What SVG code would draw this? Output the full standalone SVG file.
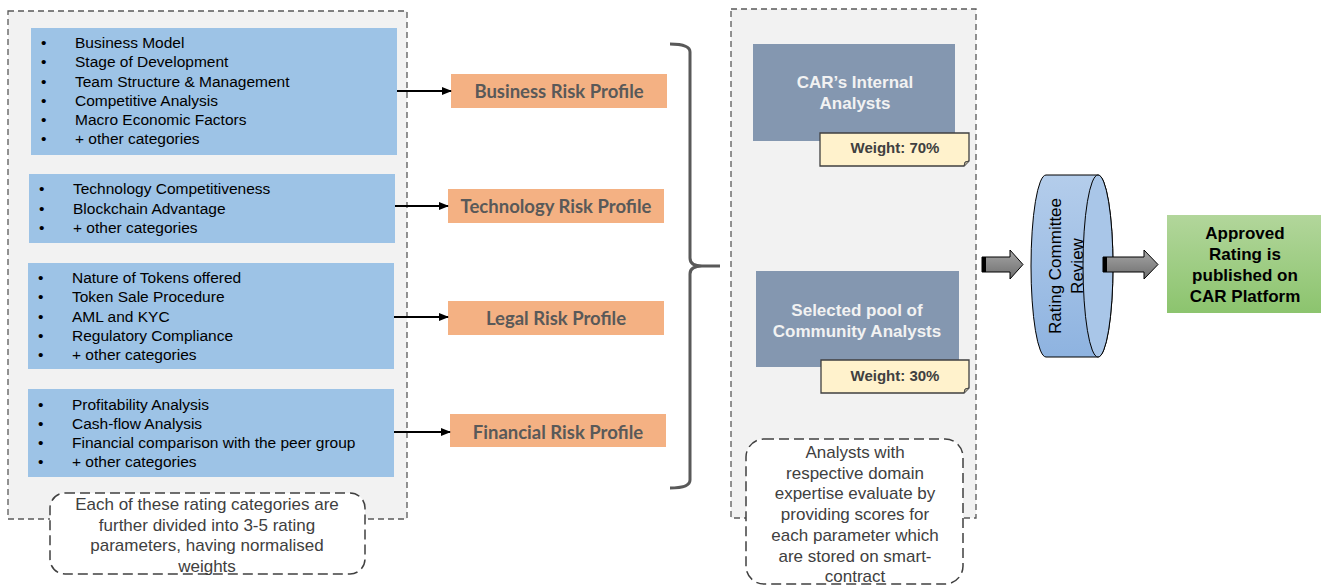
<svg xmlns="http://www.w3.org/2000/svg" width="1323" height="585" viewBox="0 0 1323 585">
<defs>
<style>
.cont{fill:#F2F2F2;stroke:#595959;stroke-width:1.3;stroke-dasharray:6 4}
.note{fill:#FFFFFF;stroke:#404040;stroke-width:1.5;stroke-dasharray:10 5}
.blue{fill:#9DC3E6}
.list{font-family:"Liberation Sans",Arial,sans-serif;font-size:15.5px;fill:#000}
.orange{fill:#F4B183}
.otxt{font-family:Lato,"Liberation Sans",sans-serif;font-weight:bold;font-size:18.5px;fill:#595959;text-anchor:middle}
.slate{fill:#8497B0}
.stxt{font-family:"Liberation Sans",Arial,sans-serif;font-weight:bold;font-size:17px;fill:#F2F2F2;text-anchor:middle}
.wt{fill:#FFF2CC;stroke:#404040;stroke-width:1.3}
.wtxt{font-family:"Liberation Sans",Arial,sans-serif;font-weight:bold;font-size:15px;fill:#404040;text-anchor:middle}
.ntxt{font-family:"Liberation Sans",Arial,sans-serif;font-size:17px;fill:#404040;text-anchor:middle}
.conn{stroke:#000;stroke-width:2;fill:none}
.fat{fill:url(#gg);stroke:#000;stroke-width:1}
</style>
<marker id="ah" markerWidth="10" markerHeight="8" refX="9" refY="4" orient="auto" markerUnits="userSpaceOnUse">
<path d="M0,0 L10,4 L0,8 Z" fill="#000"/>
</marker>
<linearGradient id="gg" x1="0" y1="0" x2="0" y2="1">
<stop offset="0" stop-color="#A6A6A6"/><stop offset="1" stop-color="#6E6E6E"/>
</linearGradient>
<linearGradient id="cyl" x1="0" y1="0" x2="0" y2="1">
<stop offset="0" stop-color="#B4CDEB"/><stop offset="1" stop-color="#8EB3E0"/>
</linearGradient>
<linearGradient id="grn" x1="0" y1="0" x2="0" y2="1">
<stop offset="0" stop-color="#B2D69B"/><stop offset="1" stop-color="#8CC46E"/>
</linearGradient>
</defs>

<rect width="1323" height="585" fill="#FFFFFF"/>

<g id="left-container">
<rect class="cont" x="8" y="11" width="399" height="508"/>
</g>

<g id="business-list">
<rect class="blue" x="31" y="28" width="366" height="127"/>
<g class="list">
<text x="41" y="48">•</text><text x="75" y="48">Business Model</text>
<text x="41" y="67">•</text><text x="75" y="67">Stage of Development</text>
<text x="41" y="87">•</text><text x="75" y="87">Team Structure &amp; Management</text>
<text x="41" y="106">•</text><text x="75" y="106">Competitive Analysis</text>
<text x="41" y="125">•</text><text x="75" y="125">Macro Economic Factors</text>
<text x="41" y="144">•</text><text x="75" y="144">+ other categories</text>
</g>
</g>

<g id="technology-list">
<rect class="blue" x="29" y="174" width="366" height="69"/>
<g class="list">
<text x="39" y="194">•</text><text x="73" y="194">Technology Competitiveness</text>
<text x="39" y="214">•</text><text x="73" y="214">Blockchain Advantage</text>
<text x="39" y="233">•</text><text x="73" y="233">+ other categories</text>
</g>
</g>

<g id="legal-list">
<rect class="blue" x="28" y="263" width="366" height="106"/>
<g class="list">
<text x="38" y="283">•</text><text x="72" y="283">Nature of Tokens offered</text>
<text x="38" y="302">•</text><text x="72" y="302">Token Sale Procedure</text>
<text x="38" y="322">•</text><text x="72" y="322">AML and KYC</text>
<text x="38" y="341">•</text><text x="72" y="341">Regulatory Compliance</text>
<text x="38" y="360">•</text><text x="72" y="360">+ other categories</text>
</g>
</g>

<g id="financial-list">
<rect class="blue" x="28" y="389" width="366" height="88"/>
<g class="list">
<text x="38" y="410">•</text><text x="72" y="410">Profitability Analysis</text>
<text x="38" y="429">•</text><text x="72" y="429">Cash-flow Analysis</text>
<text x="38" y="448">•</text><text x="72" y="448">Financial comparison with the peer group</text>
<text x="38" y="467">•</text><text x="72" y="467">+ other categories</text>
</g>
</g>

<g id="left-note">
<rect class="note" x="50" y="493" width="315" height="81" rx="15"/>
<g class="ntxt">
<text x="207" y="510">Each of these rating categories are</text>
<text x="207" y="531">further divided into 3-5 rating</text>
<text x="207" y="551">parameters, having normalised</text>
<text x="207" y="572">weights</text>
</g>
</g>

<g id="business-risk">
<rect class="orange" x="451" y="74" width="216" height="34"/>
<text class="otxt" x="559" y="97.5">Business Risk Profile</text>
</g>
<g id="technology-risk">
<rect class="orange" x="448" y="189" width="216" height="34"/>
<text class="otxt" x="556" y="212.5">Technology Risk Profile</text>
</g>
<g id="legal-risk">
<rect class="orange" x="448" y="301" width="216" height="34"/>
<text class="otxt" x="556" y="324.5">Legal Risk Profile</text>
</g>
<g id="financial-risk">
<rect class="orange" x="450" y="414" width="216" height="33"/>
<text class="otxt" x="558" y="438.5">Financial Risk Profile</text>
</g>

<g id="middle-container">
<rect class="cont" x="731" y="9" width="245" height="509"/>
</g>

<g id="internal-analysts">
<rect class="slate" x="753" y="44" width="202" height="97"/>
<text class="stxt" x="855" y="88">CAR’s Internal</text>
<text class="stxt" x="855" y="109">Analysts</text>
</g>
<g id="weight-70">
<path class="wt" d="M820,133 H969 V161 L964,166 H820 Z"/>
<path d="M964,166 L965,162 L969,161" fill="#BFB8A0" stroke="#404040" stroke-width="1"/>
<text class="wtxt" x="895" y="153">Weight: 70%</text>
</g>

<g id="community-analysts">
<rect class="slate" x="756" y="271" width="203" height="96"/>
<text class="stxt" x="857" y="316">Selected pool of</text>
<text class="stxt" x="857" y="337">Community Analysts</text>
</g>
<g id="weight-30">
<path class="wt" d="M821,360 H969 V388 L964,393 H821 Z"/>
<path d="M964,393 L965,389 L969,388" fill="#BFB8A0" stroke="#404040" stroke-width="1"/>
<text class="wtxt" x="895" y="381">Weight: 30%</text>
</g>

<g id="right-note">
<rect class="note" x="746" y="439" width="217" height="145" rx="18"/>
<g class="ntxt">
<text x="855" y="458">Analysts with</text>
<text x="855" y="479">respective domain</text>
<text x="855" y="499">expertise evaluate by</text>
<text x="855" y="520">providing scores for</text>
<text x="855" y="541">each parameter which</text>
<text x="855" y="562">are stored on smart-</text>
<text x="855" y="582">contract</text>
</g>
</g>

<g id="rating-committee">
<path d="M1046,175 H1098 A15,91 0 0 1 1098,357 H1046 A15,91 0 0 1 1046,175 Z" fill="url(#cyl)" stroke="#000" stroke-width="1"/>
<ellipse cx="1098" cy="266" rx="15" ry="91" fill="#A9C6E8" stroke="#000" stroke-width="1"/>
<g transform="translate(1072,266) rotate(-90)" font-family="'Liberation Sans',Arial,sans-serif" font-size="17px" fill="#000" text-anchor="middle">
<text x="0" y="-11">Rating Committee</text>
<text x="0" y="11">Review</text>
</g>
</g>

<g id="approved-rating">
<rect x="1167" y="215" width="154" height="98" fill="url(#grn)"/>
<g font-family="'Liberation Sans',Arial,sans-serif" font-weight="bold" font-size="17px" fill="#000" text-anchor="middle">
<text x="1245" y="239">Approved</text>
<text x="1245" y="260">Rating is</text>
<text x="1245" y="281">published on</text>
<text x="1245" y="302">CAR Platform</text>
</g>
</g>

<g id="connectors">
<line class="conn" x1="397" y1="91" x2="451" y2="91" marker-end="url(#ah)"/>
<line class="conn" x1="395" y1="206" x2="448" y2="206" marker-end="url(#ah)"/>
<line class="conn" x1="394" y1="317" x2="448" y2="317" marker-end="url(#ah)"/>
<line class="conn" x1="394" y1="432" x2="450" y2="432" marker-end="url(#ah)"/>
<path d="M670,44 Q690,44 690,52 V258 Q690,266 702,266 H720 M702,266 Q690,266 690,274 V480 Q690,488 670,488" fill="none" stroke="#595959" stroke-width="3"/>
<path class="fat" d="M982,257 H1010 V250 L1023,264.5 L1010,279 V272 H982 Z"/>
<rect x="982" y="257" width="4" height="15" fill="#000"/>
<path class="fat" d="M1103,257 H1144 V250 L1158,264.5 L1144,279 V272 H1103 Z"/>
<rect x="1103" y="257" width="4" height="15" fill="#000"/>
</g>
</svg>
